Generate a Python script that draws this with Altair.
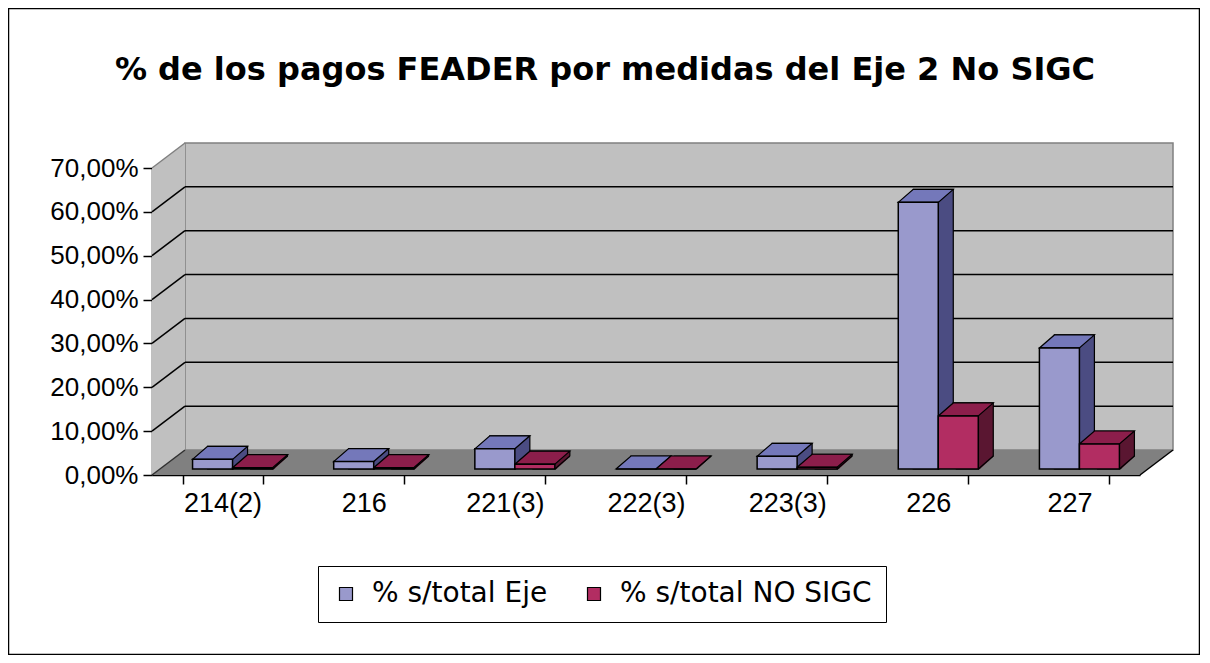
import altair as alt
import pandas as pd

# ---- data ----
categories = ["214(2)", "216", "221(3)", "222(3)", "223(3)", "226", "227"]
series = ["% s/total Eje", "% s/total NO SIGC"]
eje = [0.022, 0.017, 0.046, 0.0, 0.029, 0.608, 0.276]
no_sigc = [0.003, 0.003, 0.011, 0.0, 0.004, 0.121, 0.057]
y_ticks = [0.0, 0.1, 0.2, 0.3, 0.4, 0.5, 0.6, 0.7]
title_text = "% de los pagos FEADER por medidas del Eje 2 No SIGC"

front_colors = ["#9999CC", "#B22D62"]
top_colors = ["#7478BA", "#8C1E4B"]
side_colors = ["#4B4C82", "#5A1631"]
FLOOR = "#808080"
WALL = "#C0C0C0"

rows = []
for c, a, b in zip(categories, eje, no_sigc):
    rows.append({"cat": c, "serie": series[0], "val": a, "base": 0.0})
    rows.append({"cat": c, "serie": series[1], "val": b, "base": 0.0})
df = pd.DataFrame(rows)

grid_df = pd.DataFrame({"tick": [t for t in y_ticks if 0 < t < 0.7]})
edge_df = pd.DataFrame({"tick": [0.0]})
top_edge_df = pd.DataFrame({"tick": [0.7]})
one = pd.DataFrame({"a": [0]})

W, H = 988, 307
DX, DY = 33, 25  # wall depth in pixels
BW = 40          # bar width
SHIFT = 10       # bars sit 10px right of the category centre
BD_X, BD_Y = 15, 13  # bar depth
LIFT = 6         # bars' base sits 6px above the front axis line


def path_of(pts, scale, close=True):
    p = " ".join(("M" if i == 0 else "L") + f"{x / scale:.5f},{y / scale:.5f}"
                 for i, (x, y) in enumerate(pts))
    return p + (" Z" if close else "")


def parallelogram(w, dx, dy):
    cx, cy = (w + dx) / 2.0, -dy / 2.0
    r = cx
    pts = [(x - cx, y - cy) for x, y in [(0, 0), (w, 0), (w + dx, -dy), (dx, -dy)]]
    return path_of(pts, r), (2 * r) ** 2


def vertical_parallelogram(dx, dy, h):
    cx, cy = dx / 2.0, (h - dy) / 2.0
    r = (h + dy) / 2.0
    pts = [(x - cx, y - cy) for x, y in [(0, 0), (dx, -dy), (dx, h - dy), (0, h)]]
    return path_of(pts, r), (2 * r) ** 2, cx, cy


yscale = alt.Scale(domain=[0, 0.7], nice=False, zero=True)
xscale = alt.Scale(domain=categories, paddingInner=0.433, paddingOuter=0.2165)

y_axis = alt.Axis(values=y_ticks, labelExpr="replace(format(datum.value, '.2%'), '.', ',')",
                  labelFont="Liberation Sans", labelFontSize=26, labelColor="black",
                  tickSize=9, tickColor="black", tickWidth=1.5, domainColor="black",
                  domainWidth=1.5, labelPadding=5, grid=False, title=None)
x_axis = alt.Axis(labelAngle=0, labelFont="Liberation Sans", labelFontSize=27, labelColor="black",
                  tickBand="extent", tickSize=9, tickColor="black", tickWidth=1.5,
                  domainColor="black", domainWidth=1.5, labelPadding=6, grid=False, title=None)


def yq(field):
    return alt.Y(field, stack=None, scale=yscale, axis=y_axis, title=None)


# ---- decorative frame / walls ----
outer = alt.Chart(one).mark_rect(fill=None, stroke="black", strokeWidth=1.5).encode(
    x=alt.value(-143.5), x2=alt.value(W + 59.5), y=alt.value(-159.5), y2=alt.value(H + 179.5)
)
back_wall = alt.Chart(one).mark_rect(fill=WALL, stroke="#808080", strokeWidth=1.5).encode(
    x=alt.value(DX), x2=alt.value(W + DX), y=alt.value(-DY), y2=alt.value(H - DY)
)
lw_path, lw_size, lw_cx, lw_cy = vertical_parallelogram(DX, DY, H)
left_wall = alt.Chart(one).mark_point(
    shape=lw_path, size=lw_size, filled=True, fill=WALL, opacity=1, strokeWidth=0
).encode(x=alt.value(lw_cx), y=alt.value(lw_cy))
fl_path, fl_size = parallelogram(W, DX, DY)
floor = alt.Chart(one).mark_point(
    shape=fl_path, size=fl_size, filled=True, fill=FLOOR, opacity=1, strokeWidth=0
).encode(x=alt.value((W + DX) / 2.0), y=alt.value(H - DY / 2.0))


def rule_layer(data, color, x0, x1, off1, off2):
    return alt.Chart(data).mark_rule(color=color, strokeWidth=1.5, yOffset=off1, y2Offset=off2).encode(
        y=yq("tick:Q"), y2="tick:Q", x=alt.value(x0), x2=alt.value(x1)
    )


grid = rule_layer(grid_df, "black", DX, W + DX, -DY, -DY)
diag = rule_layer(grid_df, "black", 0, DX, 0, -DY)
diag_top = rule_layer(top_edge_df, "#808080", 0, DX, 0, -DY)
diag_floor_left = rule_layer(edge_df, "#303030", 0, DX, 0, -DY)
diag_floor_right = rule_layer(edge_df, "black", W, W + DX, 0, -DY)

# ---- bars (pseudo 3D) ----
x_enc = alt.X("cat:N", sort=categories, scale=xscale, axis=x_axis, title=None)


def xo(shift):
    return alt.XOffset("serie:N", sort=series,
                       scale=alt.Scale(domain=series, range=[shift, shift + 2 * BW]))


# side face: a copy pushed back by the bar depth
side = alt.Chart(df).mark_bar(
    yOffset=-LIFT - BD_Y, y2Offset=-LIFT, stroke="black", strokeWidth=1.2
).encode(
    x=x_enc, xOffset=xo(SHIFT + BD_X),
    y=yq("val:Q"), y2="base:Q",
    color=alt.Color("serie:N", scale=alt.Scale(domain=series, range=side_colors), legend=None),
)
# trim the side face's lower corner to the receding diagonal
cover_path = path_of([(0, 1.5), (BD_X + 2.5, -BD_Y - 1.5), (BD_X + 2.5, 1.5)], 20)
cover = alt.Chart(df).mark_point(
    shape=cover_path, size=1600, filled=True, fill=FLOOR, opacity=1, strokeWidth=0, yOffset=-LIFT
).encode(x=x_enc, xOffset=xo(SHIFT + BW / 2.0), y=yq("base:Q"))
edge_path = path_of([(0, 0), (BD_X, -BD_Y)], 20, close=False)
edge = alt.Chart(df).mark_point(
    shape=edge_path, size=1600, filled=False, stroke="black", strokeWidth=1.2, opacity=1, yOffset=-LIFT
).encode(x=x_enc, xOffset=xo(SHIFT + BW / 2.0), y=yq("base:Q"))

top_path, top_size = parallelogram(BW, BD_X, BD_Y)
top = alt.Chart(df).mark_point(
    shape=top_path, size=top_size, filled=True, opacity=1, stroke="black", strokeWidth=1.2,
    yOffset=-LIFT - BD_Y / 2.0,
).encode(
    x=x_enc, xOffset=xo(SHIFT + BD_X / 2.0),
    y=yq("val:Q"),
    color=alt.Color("serie:N", scale=alt.Scale(domain=series, range=top_colors), legend=None),
)
front = alt.Chart(df).mark_bar(
    yOffset=-LIFT, y2Offset=-LIFT, stroke="black", strokeWidth=1.5
).encode(
    x=x_enc, xOffset=xo(SHIFT),
    y=yq("val:Q"), y2="base:Q",
    color=alt.Color(
        "serie:N", scale=alt.Scale(domain=series, range=front_colors),
        legend=alt.Legend(
            orient="none", legendX=166, legendY=398, direction="horizontal", title=None,
            symbolType="square", symbolSize=169, symbolStrokeColor="black", symbolStrokeWidth=1.2,
            labelFont="DejaVu Sans", labelFontSize=28, labelColor="black", labelOffset=12,
            strokeColor="black", fillColor="white", padding=14,
            columnPadding=32, labelLimit=400,
        ),
    ),
)

title = alt.Chart(pd.DataFrame({"t": [title_text]})).mark_text(
    font="DejaVu Sans", fontSize=32, fontWeight="bold", color="black", align="center", baseline="middle"
).encode(text="t:N", x=alt.value(453), y=alt.value(-98))

chart = alt.layer(
    outer, back_wall, left_wall, floor, grid, diag, diag_top, diag_floor_left, diag_floor_right,
    side, cover, edge, top, front, title
).resolve_scale(color="independent", xOffset="independent").properties(
    width=W, height=H,
    autosize=alt.AutoSizeParams(type="none"),
    padding={"left": 144, "top": 160, "right": 60, "bottom": 180},
).configure_view(stroke=None).configure(background="white")

chart.save("out.html", embed_options={"renderer": "svg", "actions": False})
